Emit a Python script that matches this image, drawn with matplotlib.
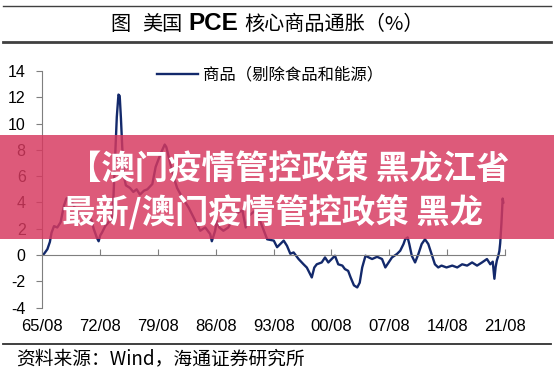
import matplotlib
matplotlib.use("Agg")
import matplotlib.pyplot as plt
from matplotlib.patches import Rectangle
from matplotlib.lines import Line2D

plt.rcParams["axes.unicode_minus"] = False

CJK = ["Noto Sans CJK SC", "DejaVu Sans"]
NAVY = "#13296b"
GREY = "#7f7f7f"

# 美国 PCE 核心商品（剔除食品和能源）同比，%
years = [1965.6, 1965.8, 1966.2, 1966.5, 1966.7, 1967.0, 1967.4, 1967.8, 1968.2, 1968.5,
         1968.9, 1969.2, 1969.6, 1970.0, 1970.4, 1970.8, 1971.2, 1971.5, 1971.8, 1972.2,
         1972.4, 1972.6, 1972.8, 1973.2, 1973.6, 1974.0, 1974.2, 1974.4, 1974.6, 1974.8,
         1974.95, 1975.1, 1975.25, 1975.45, 1975.7, 1976.2, 1976.6, 1977.0, 1977.4, 1977.9,
         1978.3, 1978.9, 1979.3, 1979.9, 1980.4, 1980.6, 1981.1, 1981.5, 1981.9, 1982.5,
         1983.3, 1984.1, 1984.7, 1985.3, 1985.9, 1986.1, 1986.5, 1986.7, 1987.0, 1987.5,
         1988.1, 1988.9, 1989.8, 1990.2, 1990.6, 1991.4, 1992.0, 1992.8, 1993.6, 1994.0,
         1994.8, 1995.2, 1995.6, 1996.0, 1996.6, 1997.2, 1997.6, 1998.2, 1998.5, 1998.8,
         1999.4, 1999.8, 2000.2, 2000.6, 2001.0, 2001.4, 2001.9, 2002.2, 2002.6, 2002.9,
         2003.3, 2003.7, 2004.0, 2004.3, 2004.7, 2005.1, 2005.5, 2006.1, 2006.7, 2007.1,
         2007.5, 2007.9, 2008.5, 2008.9, 2009.3, 2009.5, 2009.8, 2010.0, 2010.3, 2010.7,
         2011.1, 2011.5, 2011.9, 2012.3, 2012.7, 2013.1, 2013.5, 2013.9, 2014.5, 2015.2,
         2015.8, 2016.4, 2017.0, 2017.6, 2018.2, 2018.8, 2019.4, 2019.8, 2020.1, 2020.3,
         2020.45, 2020.6, 2020.75, 2020.9, 2021.0, 2021.15, 2021.3, 2021.38]
goods = [0.0, 0.1, 0.45, 1.0, 1.7, 2.2, 2.1, 2.5, 3.75, 4.3,
         4.4, 4.0, 3.5, 3.2, 3.0, 2.7, 2.5, 2.7, 2.0, 1.3,
         1.05, 1.5, 1.7, 2.2, 2.5, 2.7, 4.5, 7.5, 10.5, 12.2,
         12.1, 10.4, 8.3, 6.0, 5.3, 5.1, 4.8, 5.0, 4.6, 4.9,
         5.0, 5.4, 6.7, 7.7, 8.4, 8.2, 6.9, 5.9, 5.1, 4.4,
         3.6, 2.6, 1.85, 2.1, 1.6, 1.05, 1.85, 2.6, 2.1, 1.85,
         2.1, 3.1, 3.4, 2.1, 3.0, 3.4, 2.5, 1.2, 1.1, 0.6,
         1.1, 0.7, 0.1, 0.2, -0.3, -0.7, -0.95, -1.7, -0.95, -0.7,
         -0.56, -0.18, -0.56, -0.3, -0.05, -0.7, -0.8, -1.06, -1.2, -1.7,
         -2.3, -2.46, -2.1, -0.94, -0.05, -0.18, -0.3, -0.13, -0.3, -0.94,
         -0.56, -0.18, 0.08, 0.33, 0.84, 1.2, 1.34, 0.84, -0.05, -0.56,
         0.08, 0.84, 1.2, 0.84, 0.08, -0.7, -0.94, -0.8, -0.94, -0.8,
         -0.94, -0.7, -0.8, -0.56, -0.8, -0.56, -0.3, -0.7, -0.5, -1.8,
         -0.9, -0.4, -0.1, 0.3, 0.9, 2.4, 4.3, 4.0]

tick_years = [1965.583, 1972.583, 1979.583, 1986.583, 1993.583,
              2000.583, 2007.583, 2014.583, 2021.583]
tick_labels = ["65/08", "72/08", "79/08", "86/08", "93/08",
               "00/08", "07/08", "14/08", "21/08"]
y_ticks = [-4, -2, 0, 2, 4, 6, 8, 10, 12, 14]

W, H = 554, 374
fig = plt.figure(figsize=(W / 100, H / 100), dpi=100)
ax = fig.add_axes([42.3 / W, 1 - 307.7 / H, (505 - 42.3) / W, (307.7 - 70.9) / H])

ax.plot(years, goods, color=NAVY, lw=1.7, label="商品（剔除食品和能源）")
ax.set_xlim(tick_years[0], tick_years[-1])
ax.set_ylim(-4, 14)

for s in ("top", "right"):
    ax.spines[s].set_visible(False)
ax.spines["left"].set_color(GREY)
ax.spines["bottom"].set_color(GREY)
ax.spines["bottom"].set_position(("data", 0))
ax.set_yticks(y_ticks)
ax.set_yticklabels([str(v) for v in y_ticks], family="Liberation Sans", fontsize=11.5)
ax.tick_params(axis="y", direction="out", length=4, color=GREY, pad=8)
ax.set_xticks(tick_years)
ax.tick_params(axis="x", direction="in", length=4, color=GREY, labelbottom=False)

sec = ax.secondary_xaxis("bottom")
sec.set_xticks(tick_years)
sec.set_xticklabels(tick_labels, family="Liberation Sans", fontsize=12)
sec.tick_params(length=0, pad=8)
sec.spines["bottom"].set_visible(False)

ax.legend(loc="center left", bbox_to_anchor=(157 / W, 1 - 75 / H),
          bbox_transform=fig.transFigure, frameon=False, borderpad=0,
          borderaxespad=0, handlelength=2.5, handletextpad=0.3,
          prop={"family": CJK, "size": 11.8})

# title block
fig.add_artist(Line2D([3 / W, 551 / W], [1 - 6 / H, 1 - 6 / H], color="#404040", lw=1.0))
fig.add_artist(Line2D([3 / W, 551 / W], [1 - 42 / H, 1 - 42 / H], color="#404040", lw=2.0))
ty = 1 - 24 / H
fig.text(110 / W, ty, "图", family=CJK, fontsize=14.5, va="center")
fig.text(142 / W, ty, "美国", family=CJK, fontsize=14.5, va="center")
fig.text(188 / W, ty, "PCE", family="Liberation Sans", fontweight="bold", fontsize=17.5, va="center")
fig.text(244 / W, ty, "核心商品通胀（%）", family=CJK, fontsize=14.5, va="center")

# footer
fig.add_artist(Line2D([3 / W, 551 / W], [1 - 344 / H, 1 - 344 / H], color="#303030", lw=1.3))
fig.text(16 / W, 1 - 359 / H, "资料来源：Wind，海通证券研究所", family=CJK, fontsize=13.5, va="center")

# overlay banner
fig.add_artist(Rectangle((0, 1 - 239 / H), 1, 104 / H, transform=fig.transFigure,
                         facecolor="#d6395f", alpha=0.83, edgecolor="none", zorder=5))
fig.text(68 / W, 1 - 170 / H, "【澳门疫情管控政策 黑龙江省", family=CJK, fontsize=24,
         fontweight="bold", color="white", va="center", zorder=6)
fig.text(62 / W, 1 - 213 / H, "最新/澳门疫情管控政策 黑龙", family=CJK, fontsize=24,
         fontweight="bold", color="white", va="center", zorder=6)

fig.savefig("out.png", dpi=100)
